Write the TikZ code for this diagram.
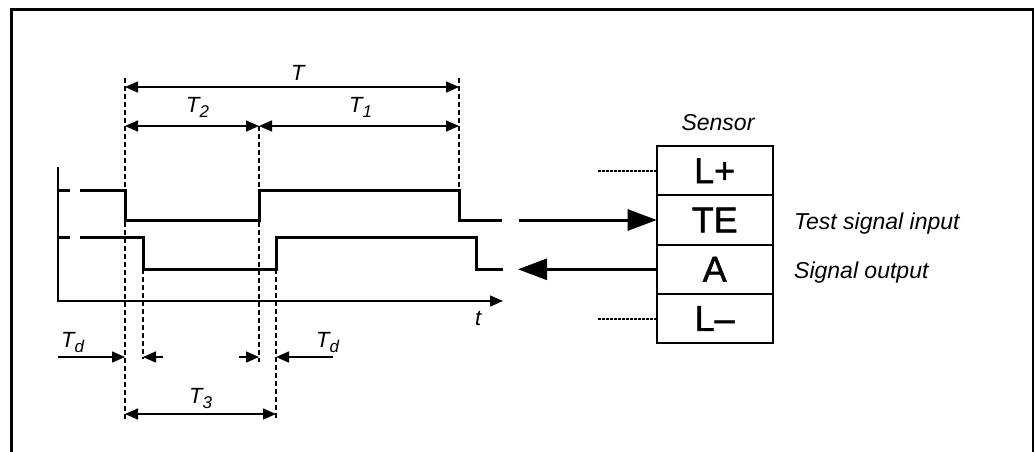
\documentclass[tikz,border=0pt]{standalone}
\usepackage{fontspec}
\setmainfont{Liberation Sans}
\newfontface\pinface{Liberation Sans}[FakeBold=1.3]
\usetikzlibrary{arrows.meta,positioning}
\definecolor{inkblack}{RGB}{0,0,0}
\newcommand{\tidx}[1]{\raisebox{-5pt}{\fontsize{17}{17}\selectfont\itshape #1}}

\begin{document}
\begin{tikzpicture}[x=1pt,y=-1pt,inkblack,
  sig/.style={line width=3pt},
  thin/.style={line width=1.5pt},
  dimtip/.style={thin,-{Triangle[length=13pt,width=11pt]}},
  dimline/.style={thin,{Triangle[length=13pt,width=11pt]}-{Triangle[length=13pt,width=11pt]}},
  helper/.style={line width=1.3pt,dash pattern=on 5pt off 3pt},
  wire/.style={line width=2pt,dash pattern=on 3pt off 1pt},
  bigtip/.style={-{Triangle[length=29pt,width=21pt]}},
  lbl/.style={font=\fontsize{22}{25}\selectfont\itshape,inner sep=0pt,anchor=base west},
  desc/.style={font=\fontsize{23}{26}\selectfont\itshape,inner sep=0pt,anchor=base west},
  pin/.style={draw,line width=2pt,minimum width=116pt,minimum height=49.3pt,
              inner sep=0pt,outer sep=0pt,font=\pinface\fontsize{36}{40}\selectfont}]
  \useasboundingbox (0,0) rectangle (1034,451);
  \draw[line width=3pt] (11,460) -- (11,9) -- (1033,9) -- (1033,460);

  \foreach \x/\a/\b in {125/78/420, 459/78/190, 259/126/362, 143/269/359, 276/269/420}{
    \draw[helper] (\x,\a) -- (\x,\b);
  }

  \draw[thin,-{Triangle[length=13pt,width=11pt]}] (58,167) -- (58,301) -- (503,301);
  \node[lbl] (taxis) at (475,325) {t};

  \draw[sig] (58,190) -- (70,190);
  \draw[sig] (80,190) -- (125,190) -- (125,220) -- (259,220) -- (259,190)
    -- (459,190) -- (459,220) -- (502,220);
  \draw[sig] (58,237) -- (70,237);
  \draw[sig] (80,237) -- (143,237) -- (143,269.3) -- (276,269.3) -- (276,237)
    -- (476,237) -- (476,269.3) -- (503,269.3);

  \draw[dimline] (125,87) -- (459,87);
  \draw[dimline] (125,126) -- (259,126);
  \draw[dimline] (259,126) -- (459,126);
  \draw[dimline] (125,414) -- (276,414);
  \draw[dimtip] (58,357) -- (125,357);
  \draw[dimtip] (163,357) -- (143,357);
  \draw[dimtip] (239,357) -- (259,357);
  \draw[dimtip] (333,357) -- (276,357);

  \node[lbl] (lblT) at (291,80) {T};
  \node[lbl] (lblTtwo) at (186,112) {T\tidx{2}};
  \node[lbl] (lblTone) at (349,112) {T\tidx{1}};
  \node[lbl] (lblTdl) at (61,347) {T\tidx{d}};
  \node[lbl] (lblTdr) at (316,347) {T\tidx{d}};
  \node[lbl] (lblTthree) at (189,403) {T\tidx{3}};

  \foreach \n/\l [count=\i from 0] in {lp/L+, te/TE, a/A, lm/L\textendash}{
    \node[pin] (\n) at (714.7,170.7+49.3*\i) {\l};
  }
  \node[lbl,anchor=base,font=\fontsize{23}{26}\selectfont\itshape] (sensor) at (718,130) {Sensor};
  \node[desc] (tedesc) at (794,229) {Test signal input};
  \node[desc] (adesc) at (794,278) {Signal output};

  \coordinate (lpend) at (597,170.7);
  \coordinate (lmend) at (597,318.6);
  \draw[wire] (lp.west) -- (lpend);
  \draw[wire] (lm.west) -- (lmend);

  \coordinate (tein) at (519,220);
  \coordinate (aout) at (518,269.3);
  \draw[sig,bigtip] (tein) -- (te.west);
  \draw[sig,bigtip] (a.west) -- (aout);
\end{tikzpicture}
\end{document}
